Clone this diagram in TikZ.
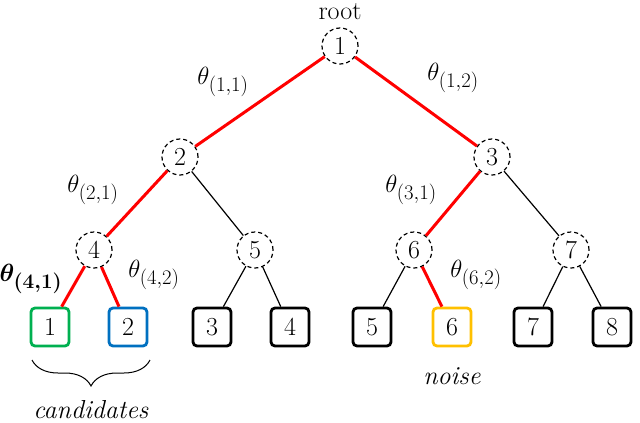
\documentclass[tikz,border=0pt]{standalone}
\usepackage{amsmath,bm}
\usetikzlibrary{decorations.pathreplacing}
\DeclareMathSizes{26}{26}{20}{15}
\definecolor{leafgreen}{RGB}{0,176,80}
\definecolor{leafblue}{RGB}{0,112,192}
\definecolor{leaforange}{RGB}{255,192,0}
\newcommand{\wt}[1]{$\theta_{(#1)}$}

\begin{document}
\begin{tikzpicture}[x=1pt,y=-1pt,
    inner/.style={circle,draw,dash pattern=on 4pt off 3pt,line width=1.2pt,minimum size=36pt,inner sep=0pt},
    leaf/.style={draw,rounded corners=4pt,line width=2.8pt,minimum size=38pt,inner sep=0pt},
    chosen/.style={red,line width=3pt},
    edge/.style={line width=1.2pt}]
    \fontsize{26}{30}\selectfont
    \useasboundingbox (0,0) rectangle (640,423);
    % inner nodes
    \node[inner sep=0pt] (root) at (340,12) {root};
    \node[inner] (n1) at (340,46) {1};
    \node[inner] (n2) at (180,157) {2};
    \node[inner] (n3) at (492,157) {3};
    \node[inner] (n4) at (94,250) {4};
    \node[inner] (n5) at (255,250) {5};
    \node[inner] (n6) at (414,250) {6};
    \node[inner] (n7) at (571,250) {7};
    % leaves
    \node[leaf,leafgreen] (l1) at (50,327) {\color{black}1};
    \node[leaf,leafblue] (l2) at (128,327) {\color{black}2};
    \node[leaf] (l3) at (212,327) {3};
    \node[leaf] (l4) at (290,327) {4};
    \node[leaf] (l5) at (372,327) {5};
    \node[leaf,leaforange] (l6) at (452,327) {\color{black}6};
    \node[leaf] (l7) at (533,327) {7};
    \node[leaf] (l8) at (612,327) {8};
    % edges
    \draw[chosen] (n1) -- (n2);
    \draw[chosen] (n1) -- (n3);
    \draw[chosen] (n2) -- (n4);
    \draw[edge] (n2) -- (n5);
    \draw[chosen] (n3) -- (n6);
    \draw[edge] (n3) -- (n7);
    \draw[chosen] (n4) -- (l1);
    \draw[chosen] (n4) -- (l2);
    \draw[edge] (n5) -- (l3);
    \draw[edge] (n5) -- (l4);
    \draw[edge] (n6) -- (l5);
    \draw[chosen] (n6) -- (l6);
    \draw[edge] (n7) -- (l7);
    \draw[edge] (n7) -- (l8);
    % weights
    \node (w11) at (223,82) {\wt{1,1}};
    \node (w12) at (453,78) {\wt{1,2}};
    \node (w21) at (93,190) {\wt{2,1}};
    \node (w31) at (411,190) {\wt{3,1}};
    \node[inner sep=0pt] (w41) at (31,279) {$\bm{\theta_{(4,1)}}$};
    \node (w42) at (154,275) {\wt{4,2}};
    \node (w62) at (476,275) {\wt{6,2}};
    % brace
    \coordinate (bl) at (32,360);
    \coordinate (br) at (150,360);
    \draw[decorate,decoration={brace,mirror,amplitude=26pt},line width=1pt] (bl) -- (br);
    \node (cand) at (91,410) {\textit{candidates}};
    \node (noise) at (452,376) {\textit{noise}};
\end{tikzpicture}
\end{document}
